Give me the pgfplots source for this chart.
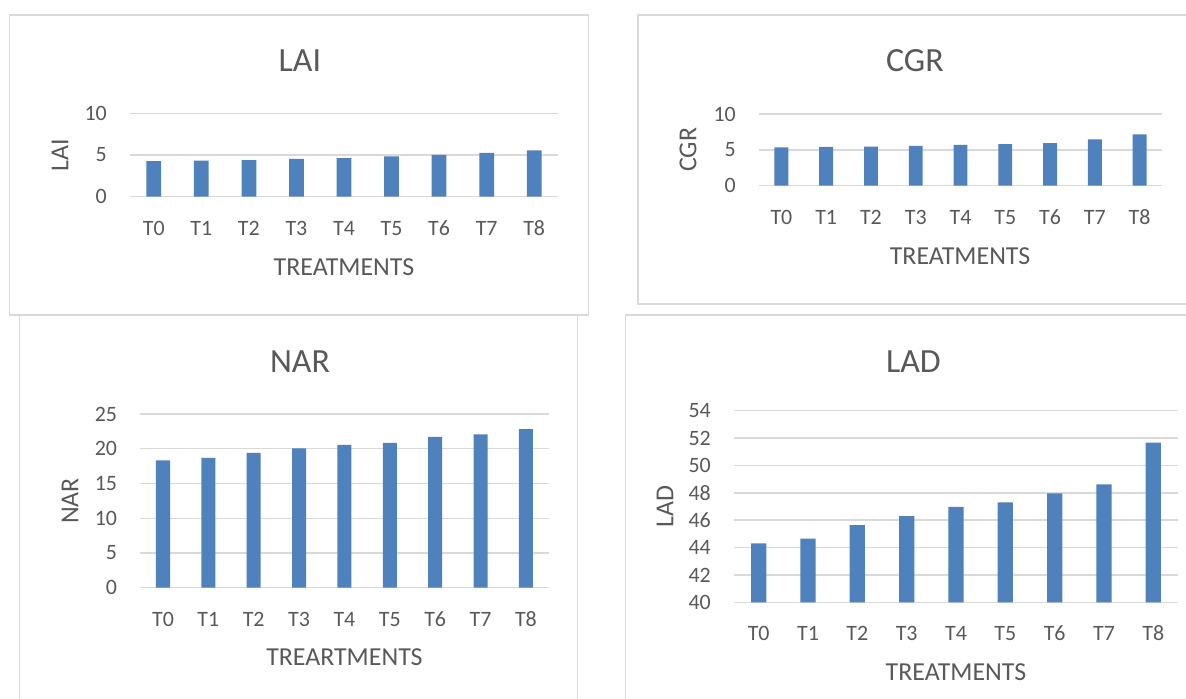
\documentclass[border=0pt]{standalone}
\usepackage{pgfplots}
\pgfplotsset{compat=1.18}
\usepackage{fontspec}
\setmainfont{Carlito}
\definecolor{barblue}{HTML}{4F81BD}
\definecolor{txt}{HTML}{595959}
\definecolor{gridc}{HTML}{D9D9D9}
\definecolor{boxc}{HTML}{D9D9D9}
\pgfplotsset{
  panel/.style={
    scale only axis,
    anchor=south west,
    ybar,
    bar width=0.31,
    xmin=-0.5, xmax=8.5,
    xtick={0,1,2,3,4,5,6,7,8},
    xticklabels={T0,T1,T2,T3,T4,T5,T6,T7,T8},
    axis x line=bottom, axis y line=left,
    axis line style={draw=none,-},
    major tick length=0pt,
    tick style={draw=none},
    ymajorgrids,
    grid style={draw=gridc, line width=1.4bp},
    /pgf/number format/assume math mode=true,
    tick label style={font=\fontsize{22}{26}\selectfont, text=txt, inner sep=0pt},
    yticklabel style={anchor=east, xshift=-23bp},
    xticklabel style={anchor=base, yshift=-38.5bp},
    label style={font=\fontsize{26}{30}\selectfont, text=txt, inner sep=0pt, anchor=center},
    title style={font=\fontsize{34}{40}\selectfont, text=txt, inner sep=0pt, anchor=center},
  },
  bars/.style={fill=barblue, draw=none},
}
\begin{document}
\begin{tikzpicture}
\useasboundingbox (0bp,0bp) rectangle (1186bp,699bp);
\clip (0bp,0bp) rectangle (1186bp,699bp);
\fill[white] (0bp,0bp) rectangle (1186bp,699bp);
% panel frames
\draw[boxc, line width=1.5bp] (9.6bp,684bp) rectangle (588.3bp,384bp);
\draw[boxc, line width=1.5bp] (637.8bp,684bp) rectangle (1200bp,395bp);
\draw[boxc, line width=1.5bp] (19.5bp,383.5bp) rectangle (577.7bp,-10bp);
\draw[boxc, line width=1.5bp] (625.5bp,384bp) rectangle (1200bp,-10bp);

% LAI
\begin{axis}[panel, at={(130bp,502.3bp)}, width=428bp, height=83.4bp,
  ymin=0, ymax=10, ytick={0,5,10},
  title={LAI}, title style={at={(axis description cs:0.397,1.555)}},
  ylabel={LAI}, ylabel style={at={(axis description cs:-0.1636,0.5)}},
  xlabel={TREATMENTS}, xlabel style={at={(axis description cs:0.5,-0.845)}}]
\addplot[bars] coordinates {(0,4.26) (1,4.32) (2,4.38) (3,4.54) (4,4.62) (5,4.82) (6,5.00) (7,5.24) (8,5.56)};
\end{axis}

% CGR
\begin{axis}[panel, at={(759bp,513.3bp)}, width=403bp, height=71.7bp,
  ymin=0, ymax=10, ytick={0,5,10},
  title={CGR}, title style={at={(axis description cs:0.387,1.655)}},
  ylabel={CGR}, ylabel style={at={(axis description cs:-0.176,0.5)}},
  xlabel={TREATMENTS}, xlabel style={at={(axis description cs:0.499,-0.985)}}]
\addplot[bars] coordinates {(0,5.35) (1,5.40) (2,5.44) (3,5.56) (4,5.69) (5,5.81) (6,5.95) (7,6.47) (8,7.16)};
\end{axis}

% NAR
\begin{axis}[panel, at={(140.3bp,111.3bp)}, width=408.3bp, height=173.7bp,
  ymin=0, ymax=25, ytick={0,5,10,15,20,25},
  title={NAR}, title style={at={(axis description cs:0.391,1.265)}},
  ylabel={NAR}, ylabel style={at={(axis description cs:-0.172,0.5)}},
  xlabel={TREARTMENTS}, xlabel style={at={(axis description cs:0.5,-0.402)}}]
\addplot[bars] coordinates {(0,18.33) (1,18.67) (2,19.41) (3,20.04) (4,20.57) (5,20.86) (6,21.69) (7,22.07) (8,22.84)};
\end{axis}

% LAD
\begin{axis}[panel, at={(734bp,96.7bp)}, width=444bp, height=191.6bp,
  ymin=40, ymax=54, ytick={40,42,44,46,48,50,52,54},
  title={LAD}, title style={at={(axis description cs:0.404,1.223)}},
  ylabel={LAD}, ylabel style={at={(axis description cs:-0.155,0.5)}},
  xlabel={TREATMENTS}, xlabel style={at={(axis description cs:0.5,-0.366)}}]
\addplot[bars] coordinates {(0,44.31) (1,44.65) (2,45.64) (3,46.30) (4,46.98) (5,47.30) (6,47.96) (7,48.62) (8,51.66)};
\end{axis}
\end{tikzpicture}
\end{document}
